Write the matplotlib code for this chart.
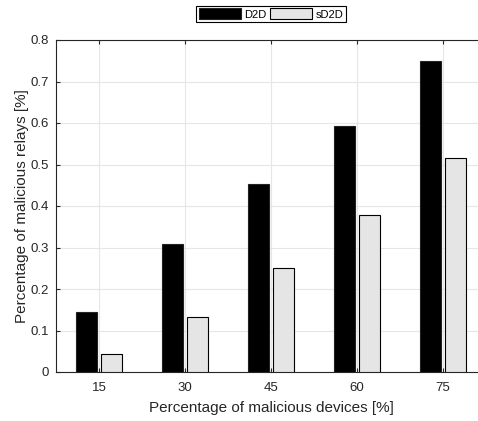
import matplotlib
matplotlib.use("Agg")
import matplotlib.pyplot as plt
import numpy as np

# data
devices = [15, 30, 45, 60, 75]
d2d = [0.145, 0.309, 0.454, 0.593, 0.749]
sd2d = [0.043, 0.132, 0.250, 0.378, 0.515]

plt.rcParams['font.family'] = ['Liberation Sans', 'DejaVu Sans']

fig = plt.figure(figsize=(4.78, 4.21), dpi=100)
# axes run past the right edge, as in the cropped original
ax = fig.add_axes([56 / 478, 1 - 372 / 421, 430 / 478, 332 / 421])

x = np.array(devices, dtype=float)
w = 3.6
off = 2.15
ax.bar(x - off, d2d, width=w, color='black', edgecolor='#222222', linewidth=0.8, label='D2D', zorder=3)
ax.bar(x + off, sd2d, width=w, color='#e5e5e5', edgecolor='black', linewidth=0.8, label='sD2D', zorder=3)

ax.set_xlim(7.5, 82.5)
ax.set_ylim(0, 0.8)
ax.set_xticks(devices)
ax.set_yticks(np.arange(0, 0.81, 0.1))
ax.set_yticklabels(['0'] + ['%.1f' % v for v in np.arange(0.1, 0.81, 0.1)])
ax.grid(True, color='#e6e6e6', linewidth=0.8, zorder=0)
ax.tick_params(direction='in', length=3, labelsize=9.5, colors='#262626',
               top=True, right=True, width=0.8)
ax.tick_params(axis='x', pad=7)
ax.tick_params(axis='y', pad=5)
for s in ax.spines.values():
    s.set_color('#262626')
    s.set_linewidth(0.8)

ax.set_xlabel('Percentage of malicious devices [%]', fontsize=11, color='#262626', labelpad=5)
ax.set_ylabel('Percentage of malicious relays [%]', fontsize=11, color='#262626', labelpad=1)

leg = fig.legend(loc='center', bbox_to_anchor=(271 / 478, 1 - 14 / 421), ncol=2,
                 fontsize=8, handlelength=3.8, handleheight=1.1, handletextpad=0.3,
                 columnspacing=0.3, borderpad=0.25, fancybox=False, framealpha=1)
leg.get_frame().set_edgecolor('black')
leg.get_frame().set_linewidth(0.8)

fig.savefig('out.png', dpi=100)
